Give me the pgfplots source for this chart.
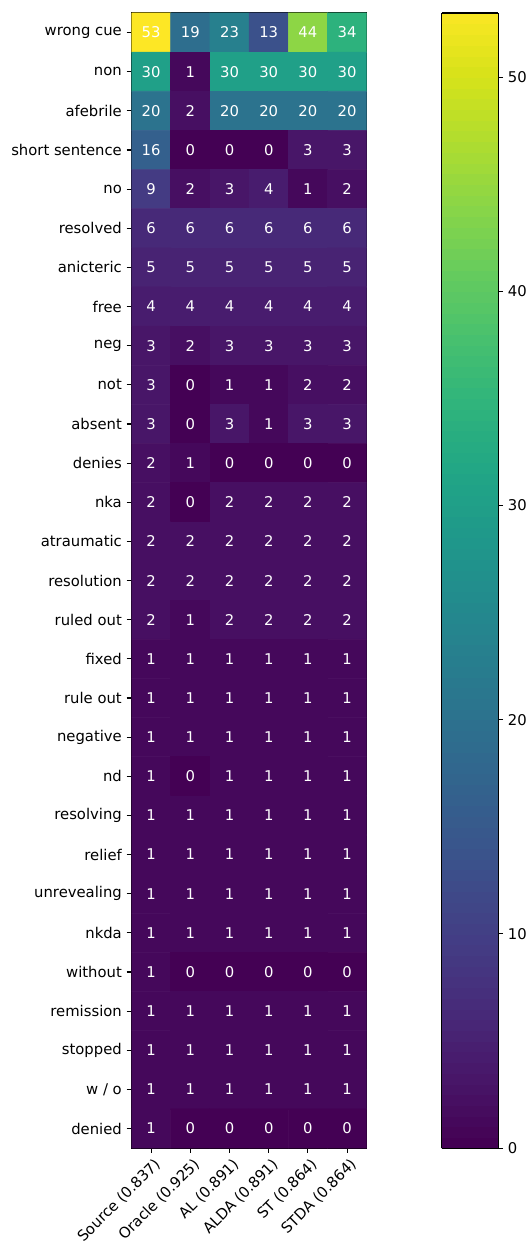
\documentclass[border=0pt]{standalone}
\usepackage{fontspec}
\setmainfont{DejaVu Sans}
\usepackage{pgfplots}
\usepackage{pgfplotstable}
\pgfplotsset{compat=1.18}
\pgfplotstableread{
x y z
0 0 53
1 0 19
2 0 23
3 0 13
4 0 44
5 0 34
0 1 30
1 1 1
2 1 30
3 1 30
4 1 30
5 1 30
0 2 20
1 2 2
2 2 20
3 2 20
4 2 20
5 2 20
0 3 16
1 3 0
2 3 0
3 3 0
4 3 3
5 3 3
0 4 9
1 4 2
2 4 3
3 4 4
4 4 1
5 4 2
0 5 6
1 5 6
2 5 6
3 5 6
4 5 6
5 5 6
0 6 5
1 6 5
2 6 5
3 6 5
4 6 5
5 6 5
0 7 4
1 7 4
2 7 4
3 7 4
4 7 4
5 7 4
0 8 3
1 8 2
2 8 3
3 8 3
4 8 3
5 8 3
0 9 3
1 9 0
2 9 1
3 9 1
4 9 2
5 9 2
0 10 3
1 10 0
2 10 3
3 10 1
4 10 3
5 10 3
0 11 2
1 11 1
2 11 0
3 11 0
4 11 0
5 11 0
0 12 2
1 12 0
2 12 2
3 12 2
4 12 2
5 12 2
0 13 2
1 13 2
2 13 2
3 13 2
4 13 2
5 13 2
0 14 2
1 14 2
2 14 2
3 14 2
4 14 2
5 14 2
0 15 2
1 15 1
2 15 2
3 15 2
4 15 2
5 15 2
0 16 1
1 16 1
2 16 1
3 16 1
4 16 1
5 16 1
0 17 1
1 17 1
2 17 1
3 17 1
4 17 1
5 17 1
0 18 1
1 18 1
2 18 1
3 18 1
4 18 1
5 18 1
0 19 1
1 19 0
2 19 1
3 19 1
4 19 1
5 19 1
0 20 1
1 20 1
2 20 1
3 20 1
4 20 1
5 20 1
0 21 1
1 21 1
2 21 1
3 21 1
4 21 1
5 21 1
0 22 1
1 22 1
2 22 1
3 22 1
4 22 1
5 22 1
0 23 1
1 23 1
2 23 1
3 23 1
4 23 1
5 23 1
0 24 1
1 24 0
2 24 0
3 24 0
4 24 0
5 24 0
0 25 1
1 25 1
2 25 1
3 25 1
4 25 1
5 25 1
0 26 1
1 26 1
2 26 1
3 26 1
4 26 1
5 26 1
0 27 1
1 27 1
2 27 1
3 27 1
4 27 1
5 27 1
0 28 1
1 28 0
2 28 0
3 28 0
4 28 0
5 28 0
}\heat
\pgfplotsset{/pgf/number format/assume math mode=true}
\begin{document}
\begin{tikzpicture}
\path (-95.04pt,9.36pt) rectangle (288pt,-887.76pt);
\begin{axis}[
  at={(0pt,0pt)}, anchor=north west,
  scale only axis, width=169.9pt, height=820.1pt,
  xmin=-0.5, xmax=5.5, ymin=-0.5, ymax=28.5,
  y dir=reverse,
  axis line style={line width=0.8pt},
  tick align=outside, major tick length=3.5pt,
  tick style={line width=0.8pt, black},
  xtick pos=bottom, ytick pos=left,
  xtick={0,...,5},
  xticklabels={Source (0.837),Oracle (0.925),AL (0.891),ALDA (0.891),ST (0.864),STDA (0.864)},
  xticklabel style={rotate=45, anchor=north east, font=\fontsize{10.7}{12}\selectfont, inner sep=1pt, yshift=-2pt},
  ytick={0,...,28},
  yticklabels={wrong cue,non,afebrile,short sentence,no,resolved,anicteric,free,neg,not,absent,denies,nka,atraumatic,resolution,ruled out,fixed,rule out,negative,nd,resolving,relief,unrevealing,nkda,without,remission,stopped,w / o,denied},
  yticklabel style={font=\fontsize{10.7}{12}\selectfont},
  colormap name=viridis,
  point meta min=0, point meta max=53,
  colorbar sampled={surf, mark=none, shader=flat corner, samples=107},
  colorbar style={
    at={(parent axis.north east)}, anchor=north west, xshift=45.5pt,
    scale only axis, width=41pt, height=820.1pt,
    xmin=0, xmax=1, ymin=0, ymax=53, y dir=normal,
    enlargelimits=false,
    xtick=\empty, xticklabels={},
    ytick={0,10,20,30,40,50}, yticklabels={0,10,20,30,40,50},
    ytick pos=right, yticklabel pos=right,
    yticklabel style={font=\fontsize{10.7}{12}\selectfont},
    axis line style={line width=0.8pt},
    tick align=outside, major tick length=3.5pt,
    tick style={line width=0.8pt, black},
  },
]
\addplot[matrix plot*, mesh/cols=6, shader=flat corner, draw=none, point meta=explicit] table[x=x, y=y, meta=z] {\heat};
\addplot[only marks, mark=none, point meta=explicit symbolic,
  nodes near coords, nodes near coords align={center},
  nodes near coords style={anchor=center, text=white, font=\fontsize{10.7}{12}\selectfont}]
  table[x=x, y=y, meta=z] {\heat};
\end{axis}
\end{tikzpicture}
\end{document}
